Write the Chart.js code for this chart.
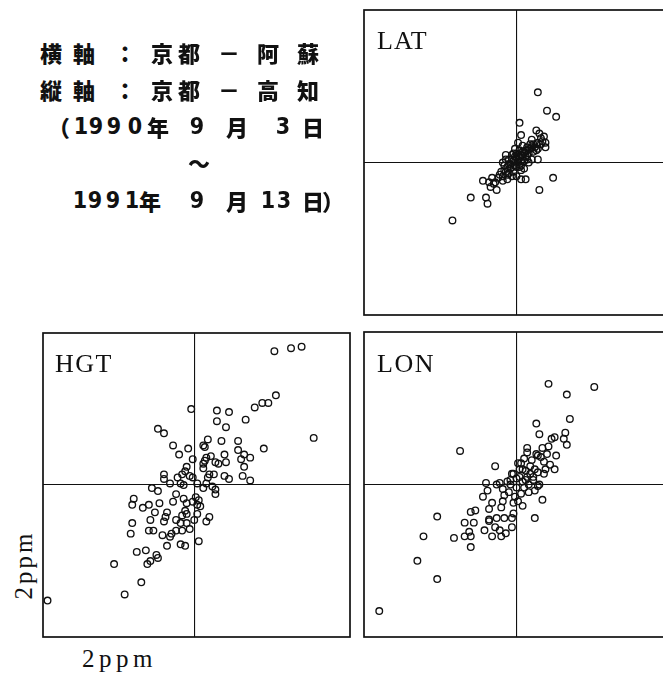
<!DOCTYPE html>
<html>
<head>
<meta charset="utf-8">
<script src="https://cdn.jsdelivr.net/npm/chart.js@4/dist/chart.umd.min.js"></script>
<style>
  html, body { margin: 0; padding: 0; background: #fff; width: 663px; height: 676px; overflow: hidden; }
  .pane { position: absolute; }
  .tag { position: absolute; font-family: "Liberation Serif", "DejaVu Serif", serif; color: #111; line-height: 1; white-space: nowrap; }
  .jp { position: absolute; transform: translate(-50%, -50%); color: #111; line-height: 1; white-space: nowrap;
        font-family: "Noto Sans CJK JP", sans-serif; font-weight: 900; font-size: 22px; }
  .jp.num { font-family: "Liberation Sans Narrow", "DejaVu Sans Condensed", "Liberation Sans", sans-serif; font-size: 23px; font-weight: 700; }
</style>
</head>
<body>
<canvas id="lat" class="pane" width="309" height="309" style="left:362px;top:8px;"></canvas>
<canvas id="hgt" class="pane" width="311" height="308" style="left:41px;top:331px;"></canvas>
<canvas id="lon" class="pane" width="309" height="309" style="left:362px;top:330px;"></canvas>

<div class="tag" style="left:377px;top:28px;font-size:26px;letter-spacing:1px;">LAT</div>
<div class="tag" style="left:55px;top:351px;font-size:26px;letter-spacing:1.5px;">HGT</div>
<div class="tag" style="left:377px;top:351px;font-size:26px;letter-spacing:1.5px;">LON</div>
<div class="tag" style="left:82px;top:646px;font-size:25px;letter-spacing:4.5px;">2ppm</div>
<div class="tag" style="left:23px;top:565px;font-size:25px;letter-spacing:3px;transform:translate(-50%,-50%) rotate(-90deg);">2ppm</div>

<div id="caption"></div>

<script>
// Baseline differences (ppm): x = Kyoto–Aso, y = Kyoto–Kochi
const latPoints = [
  [0.14,0.46],[0.20,0.34],[0.26,0.30],[0.02,0.26],[0.03,0.18],[0.13,0.21],[0.15,0.19],[0.19,0.13],
  [0.14,0.13],[0.14,0.09],[0.19,0.10],[0.14,0.02],[0.10,0.15],[0.09,0.12],[0.07,0.10],[0.05,0.07],
  [0.03,0.05],[0.00,0.03],[-0.02,0.01],[-0.04,-0.01],[-0.06,-0.03],[-0.07,-0.06],[-0.09,-0.09],[-0.07,0.05],
  [-0.03,0.05],[0.04,0.11],[0.01,0.13],[0.07,0.02],[0.10,0.02],[0.06,-0.11],[0.03,-0.11],[0.24,-0.10],
  [0.15,-0.18],[-0.22,-0.12],[-0.16,-0.10],[-0.17,-0.16],[-0.14,-0.13],[-0.13,-0.18],[-0.09,-0.12],[-0.06,-0.11],
  [-0.30,-0.23],[-0.20,-0.23],[-0.19,-0.27],[-0.42,-0.38],[-0.02,-0.06],[-0.03,-0.09],[0.00,-0.03],[0.03,-0.02],
  [0.05,0.01],[0.07,0.05],[0.11,0.07],[0.16,0.16],[-0.09,0.00],[-0.07,0.02],[-0.01,0.09],[-0.05,-0.07],
  [0.00,-0.09],[0.01,0.00],[0.02,0.03],[-0.01,-0.02],[0.04,0.04],[-0.04,-0.04],[0.06,0.08],[0.08,0.06],
  [-0.05,0.02],[-0.08,-0.05],[-0.10,-0.06],[0.12,0.10],[0.11,0.12],[0.16,0.12],[0.17,0.14],[-0.11,-0.08],
  [-0.12,-0.10],[-0.15,-0.14],[0.02,0.08],[0.05,-0.04],[0.08,0.00],[-0.02,0.06],[0.18,0.17],[0.13,0.08],
  [-0.18,-0.13],[-0.06,-0.08],[0.00,0.06],[0.03,-0.05],[0.09,0.09],[0.01,0.05],[0.03,0.01],[-0.03,-0.03],
  [0.05,0.06],[-0.05,-0.01],[0.07,0.08],[-0.01,0.04],[0.02,-0.03],[0.10,0.10],[0.13,0.12],[-0.08,-0.02],
  [0.04,0.07],[-0.03,0.02],[0.06,0.04]
];
const hgtPoints = [
  [0.53,0.88],[0.64,0.90],[0.71,0.91],[0.54,0.59],[0.49,0.54],[0.45,0.54],[0.40,0.51],[0.34,0.43],
  [0.79,0.31],[0.46,0.24],[0.15,0.49],[0.23,0.48],[0.15,0.42],[0.21,0.38],[-0.02,0.50],[-0.24,0.37],
  [-0.20,0.34],[-0.14,0.26],[-0.04,0.24],[-0.10,0.20],[-0.01,0.17],[0.09,0.30],[0.18,0.29],[0.06,0.26],
  [0.07,0.25],[0.29,0.29],[0.29,0.23],[0.33,0.20],[0.37,0.18],[0.31,0.17],[0.33,0.12],[0.32,0.06],
  [0.37,0.03],[0.20,0.20],[0.21,0.15],[0.20,0.06],[0.23,0.04],[0.11,0.19],[0.08,0.18],[0.07,0.16],
  [0.14,0.15],[0.16,0.14],[0.06,0.14],[0.06,0.11],[0.10,0.07],[0.13,0.07],[0.09,0.05],[-0.05,0.12],
  [-0.06,0.09],[-0.08,0.07],[-0.11,0.05],[-0.20,0.07],[-0.20,0.04],[-0.16,0.01],[-0.09,0.01],[-0.07,0.00],
  [-0.03,0.06],[-0.01,0.05],[0.02,0.01],[0.06,-0.02],[0.08,0.01],[0.12,-0.01],[0.14,-0.03],[0.14,-0.06],
  [-0.28,-0.02],[-0.24,-0.04],[-0.12,-0.06],[-0.07,-0.09],[-0.05,-0.12],[0.01,-0.08],[0.03,-0.10],[0.02,-0.13],
  [0.04,-0.14],[-0.01,-0.11],[-0.40,-0.09],[-0.41,-0.13],[-0.34,-0.15],[-0.30,-0.13],[-0.23,-0.12],[-0.14,-0.11],
  [-0.26,-0.18],[-0.18,-0.18],[-0.19,-0.21],[-0.06,-0.17],[-0.05,-0.19],[-0.08,-0.20],[0.02,-0.19],[0.10,-0.21],
  [0.08,-0.24],[0.00,-0.23],[-0.29,-0.23],[-0.20,-0.24],[-0.12,-0.23],[-0.09,-0.25],[-0.05,-0.25],[-0.03,-0.29],
  [-0.08,-0.30],[-0.12,-0.30],[-0.15,-0.32],[-0.41,-0.25],[-0.42,-0.32],[-0.30,-0.30],[-0.27,-0.30],[-0.21,-0.33],
  [-0.16,-0.34],[0.03,-0.37],[-0.09,-0.39],[-0.06,-0.40],[-0.18,-0.40],[-0.38,-0.44],[-0.32,-0.43],[-0.25,-0.46],
  [-0.24,-0.48],[-0.29,-0.50],[-0.31,-0.52],[-0.53,-0.52],[-0.35,-0.64],[-0.46,-0.72],[-0.97,-0.76]
];
const lonPoints = [
  [0.21,0.66],[0.33,0.59],[0.51,0.64],[0.35,0.43],[0.13,0.40],[0.15,0.33],[0.32,0.34],[0.31,0.30],
  [0.33,0.26],[0.25,0.31],[0.23,0.30],[0.21,0.25],[0.26,0.19],[0.17,0.24],[0.07,0.24],[0.07,0.21],
  [0.13,0.20],[0.16,0.18],[0.22,0.13],[0.25,0.10],[0.18,0.07],[0.15,0.00],[0.17,-0.10],[0.12,-0.22],
  [-0.37,0.22],[-0.14,0.12],[-0.20,0.01],[-0.13,0.00],[-0.22,-0.08],[-0.19,-0.04],[-0.08,-0.07],[-0.09,-0.11],
  [-0.16,-0.12],[-0.18,-0.16],[-0.10,-0.15],[-0.02,-0.12],[0.01,-0.11],[0.04,-0.14],[-0.02,-0.19],[-0.03,-0.22],
  [-0.08,-0.22],[-0.13,-0.22],[-0.18,-0.24],[-0.14,-0.28],[-0.11,-0.30],[-0.07,-0.32],[-0.16,-0.34],[-0.10,-0.34],
  [-0.21,-0.30],[-0.03,-0.28],[-0.30,-0.18],[-0.27,-0.17],[-0.34,-0.25],[-0.28,-0.25],[-0.31,-0.31],[-0.34,-0.34],
  [-0.30,-0.34],[-0.41,-0.35],[-0.30,-0.41],[-0.52,-0.21],[-0.61,-0.34],[-0.65,-0.50],[-0.52,-0.62],[-0.90,-0.83],
  [-0.02,0.07],[0.02,0.05],[0.04,0.02],[-0.04,0.00],[0.00,-0.02],[0.05,-0.02],[0.08,0.00],[0.11,0.05],
  [0.06,0.09],[0.03,0.14],[0.01,0.14],[0.04,0.10],[-0.03,0.07],[0.00,0.04],[0.07,0.05],[0.11,0.03],
  [-0.04,0.03],[0.14,-0.01],[-0.11,0.01],[-0.18,-0.23],[0.14,0.19],[0.09,0.12],[0.12,0.10],[0.10,0.16],
  [0.05,0.17],[0.18,0.15],[0.20,0.20],[0.19,0.10],[0.08,-0.05],[-0.05,-0.05],[-0.06,0.02],[0.03,-0.06],
  [-0.01,-0.08],[0.12,-0.04],[0.06,0.03],[-0.09,-0.03],[0.09,0.07],[0.14,0.08],[0.02,0.10]
];

// Panel frame drawn around the plotting area
const panelFrame = {
  id: 'panelFrame',
  afterDraw(chart) {
    const { ctx, chartArea: a } = chart;
    ctx.save();
    ctx.strokeStyle = '#111';
    ctx.lineWidth = 1.7;
    ctx.strokeRect(a.left, a.top, a.right - a.left, a.bottom - a.top);
    ctx.restore();
  }
};

function axis(min, max, horizontal) {
  return {
    type: 'linear', min, max,
    ticks: { display: false },
    border: { display: false },
    grid: {
      drawTicks: false,
      lineWidth: 1.1,
      color: c => (c.tick && Math.abs(c.tick.value) < 1e-9) ? '#111' : 'rgba(0,0,0,0)'
    },
    // hidden axes take no room, so the plot fills the canvas minus padding
    afterFit(scale) {
      if (horizontal) scale.height = 0; else scale.width = 0;
    }
  };
}

function panel(id, pts, xRange) {
  new Chart(document.getElementById(id), {
    type: 'scatter',
    data: {
      datasets: [{
        data: pts.map(p => ({ x: p[0], y: p[1] })),
        pointRadius: 3.3,
        pointBorderWidth: 1.35,
        pointBorderColor: '#111',
        pointBackgroundColor: 'rgba(255,255,255,0)'
      }]
    },
    options: {
      responsive: false,
      animation: false,
      layout: { padding: 2, autoPadding: false },
      plugins: { legend: { display: false }, tooltip: { enabled: false } },
      scales: { x: axis(xRange[0], xRange[1], true), y: axis(-1, 1, false) }
    },
    plugins: [panelFrame]
  });
}

panel('lat', latPoints, [-1, 1]);
panel('hgt', hgtPoints, [-1, 1.03]);
panel('lon', lonPoints, [-1, 1]);

// Caption block, one glyph per cell
const captionLines = [
  { y: 52, cells: [['横',51],['軸',84],['：',125],['京',162],['都',189],['－',229],['阿',268],['蘇',308]] },
  { y: 89, cells: [['縦',51],['軸',84],['：',125],['京',162],['都',189],['－',229],['高',268],['知',308]] },
  { y: 126, cells: [['（',59],['1',81,1],['9',96,1],['9',114,1],['0',135,1],['年',158],['9',197,1],['月',237],['3',283,1],['日',313]] },
  { y: 162, cells: [['～',199]] },
  { y: 200, cells: [['1',80,1],['9',95,1],['9',113,1],['1',132,1],['年',150],['9',197,1],['月',237],['1',268,1],['3',284,1],['日',313],['）',333]] }
];
const cap = document.getElementById('caption');
captionLines.forEach(line => {
  line.cells.forEach(c => {
    const s = document.createElement('div');
    s.className = c[2] ? 'jp num' : 'jp';
    s.textContent = c[0];
    s.style.left = c[1] + 'px';
    s.style.top = line.y + 'px';
    cap.appendChild(s);
  });
});
</script>
</body>
</html>
